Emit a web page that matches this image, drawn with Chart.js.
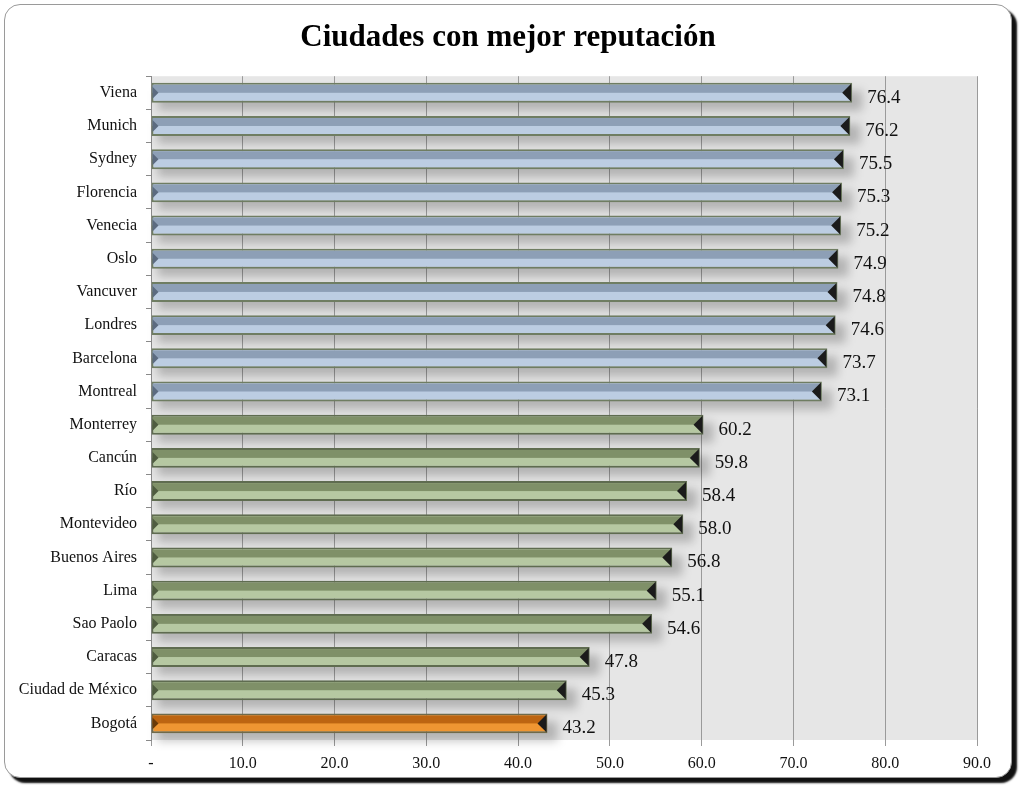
<!DOCTYPE html>
<html>
<head>
<meta charset="utf-8">
<script src="https://cdn.jsdelivr.net/npm/chart.js@4/dist/chart.umd.min.js"></script>
<style>
    html, body { margin: 0; padding: 0; background: #fff; }
    #frame {
        position: absolute;
        left: 4px; top: 4px;
        width: 1006px; height: 772px;
        border: 1px solid #9a9a9a;
        border-radius: 16px;
        background: #fff;
        box-shadow: 5px 5px 2px #111;
    }
    canvas { display: block; }
</style>
</head>
<body>
<div id="frame"><canvas id="chart" width="1006" height="772"></canvas></div>
<script>
/* =========================================================
   DATOS
   ========================================================= */

const ciudades = [
    "Viena", "Munich", "Sydney", "Florencia", "Venecia",
    "Oslo", "Vancuver", "Londres", "Barcelona", "Montreal",
    "Monterrey", "Cancún", "Río", "Montevideo", "Buenos Aires",
    "Lima", "Sao Paolo", "Caracas", "Ciudad de México", "Bogotá"
];

const reputacion = [
    76.4, 76.2, 75.5, 75.3, 75.2,
    74.9, 74.8, 74.6, 73.7, 73.1,
    60.2, 59.8, 58.4, 58.0, 56.8,
    55.1, 54.6, 47.8, 45.3, 43.2
];

// grupo de cada ciudad (define el color)
const grupos = [
    "ref", "ref", "ref", "ref", "ref",
    "ref", "ref", "ref", "ref", "ref",
    "latam", "latam", "latam", "latam", "latam",
    "latam", "latam", "latam", "latam", "bogota"
];

const xTicks = [0, 10, 20, 30, 40, 50, 60, 70, 80, 90];

/* =========================================================
   ESTILOS
   ========================================================= */

const COLORES = {
    ref:    { top: "#8d9fb6", bottom: "#bccde2", border: "#6f7d62", start: "#5c6b80" },
    latam:  { top: "#7f9068", bottom: "#b6c8a2", border: "#5f6c50", start: "#4f5c40" },
    bogota: { top: "#bd6511", bottom: "#ef9632", border: "#6f6a4a", start: "#6a3a08" }
};

const FONT = "'Liberation Serif', 'DejaVu Serif', serif";

function formatValue(v) {
    return v === 0 ? "-" : v.toFixed(1);
}

const plotBackground = {
    id: "plotBackground",
    beforeDraw(chart) {
        const { ctx, chartArea: a } = chart;
        ctx.save();
        ctx.fillStyle = "#e6e6e6";
        ctx.fillRect(a.left, a.top, a.right - a.left, a.bottom - a.top);
        ctx.restore();
    }
};

// sombra difusa bajo cada barra
const barShadow = {
    id: "barShadow",
    beforeDatasetsDraw(chart) {
        const ctx = chart.ctx;
        const meta = chart.getDatasetMeta(0);

        ctx.save();
        ctx.filter = "blur(5px)";
        ctx.fillStyle = "rgba(0,0,0,0.22)";
        meta.data.forEach(bar => {
            const { x, y, base, height } = bar.getProps(["x", "y", "base", "height"], true);
            ctx.fillRect(base + 6, y - height / 2 + 8, x - base + 4, height);
        });
        ctx.restore();
    }
};

const barDecor = {
    id: "barDecor",
    afterDatasetsDraw(chart) {
        const ctx = chart.ctx;
        const meta = chart.getDatasetMeta(0);

        meta.data.forEach((bar, i) => {
            const { x, y, base, height } = bar.getProps(["x", "y", "base", "height"], true);
            const c = COLORES[grupos[i]];
            const top = y - height / 2;

            ctx.save();

            // mitad superior más oscura
            ctx.fillStyle = c.top;
            ctx.fillRect(base + 1, top + 2, x - base - 3, height / 2 - 2);

            // triángulo inicial
            ctx.fillStyle = c.start;
            ctx.beginPath();
            ctx.moveTo(base + 1, top + 4);
            ctx.lineTo(base + 7, y);
            ctx.lineTo(base + 1, y + height / 2 - 4);
            ctx.closePath();
            ctx.fill();

            // triángulo final
            ctx.fillStyle = "#1b1b1b";
            ctx.beginPath();
            ctx.moveTo(x - 1, top + 1);
            ctx.lineTo(x - 10, y);
            ctx.lineTo(x - 1, y + height / 2 - 1);
            ctx.closePath();
            ctx.fill();

            // etiqueta
            ctx.fillStyle = "#111";
            ctx.font = "19px " + FONT;
            ctx.textAlign = "left";
            ctx.textBaseline = "middle";
            ctx.fillText(formatValue(reputacion[i]), x + 15, y + 5);

            ctx.restore();
        });
    }
};

const chart = new Chart(document.getElementById("chart").getContext("2d"), {
    type: "bar",

    data: {
        labels: ciudades,
        datasets: [
            {
                data: reputacion,
                backgroundColor: grupos.map(g => COLORES[g].bottom),
                borderColor: grupos.map(g => COLORES[g].border),
                borderWidth: 2,
                borderSkipped: false,
                categoryPercentage: 1,
                barPercentage: 0.6
            }
        ]
    },

    options: {
        indexAxis: "y",
        responsive: false,
        animation: false,
        devicePixelRatio: 1,

        layout: {
            padding: 0
        },

        plugins: {
            legend: { display: false },
            tooltip: { enabled: false },
            title: {
                display: true,
                text: "Ciudades con mejor reputación",
                color: "#000",
                font: { family: FONT, size: 31, weight: "bold" },
                padding: { top: 14, bottom: 20 }
            }
        },

        scales: {
            x: {
                type: "linear",
                min: 0,
                max: 90,
                afterBuildTicks(scale) {
                    scale.ticks = xTicks.map(v => ({ value: v }));
                },
                afterFit(scale) {
                    scale.height = 37;
                },
                border: { display: false },
                grid: {
                    color: ctx => ctx.tick && ctx.tick.value === 0 ? "rgba(0,0,0,0)" : "#9a9a9a",
                    lineWidth: 1,
                    tickLength: 6,
                    tickColor: "#9a9a9a"
                },
                ticks: {
                    color: "#111",
                    padding: 8,
                    font: { family: FONT, size: 16 },
                    callback: value => formatValue(value)
                }
            },
            y: {
                afterFit(scale) {
                    scale.width = 146;
                },
                border: { display: true, color: "#8a8a8a", width: 1 },
                grid: {
                    offset: true,
                    drawOnChartArea: false,
                    tickLength: 5,
                    color: "#8a8a8a"
                },
                ticks: {
                    color: "#111",
                    padding: 9,
                    font: { family: FONT, size: 16 }
                }
            },
            // margen derecho vacío, para que el título quede centrado
            yRight: {
                axis: "y",
                type: "linear",
                position: "right",
                afterFit(scale) {
                    scale.width = 34;
                },
                border: { display: false },
                grid: { display: false },
                ticks: { display: false }
            }
        }
    },

    plugins: [plotBackground, barShadow, barDecor]
});
</script>
</body>
</html>
